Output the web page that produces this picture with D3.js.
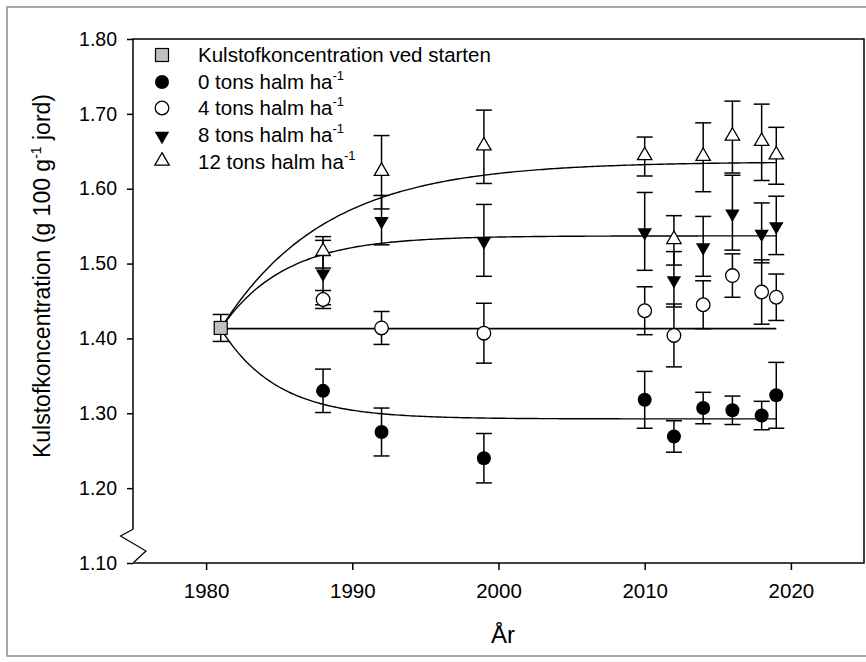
<!DOCTYPE html>
<html>
<head>
<meta charset="utf-8">
<script src="https://cdn.jsdelivr.net/npm/d3@7"></script>
<style>
  html, body { margin: 0; padding: 0; background: #fff; }
  svg { display: block; font-family: "Liberation Sans", Arial, sans-serif; }
</style>
</head>
<body>
<svg id="chart" width="866" height="662"></svg>
<script>
// ---------------- data ----------------
const years = [1988, 1992, 1999, 2010, 2012, 2014, 2016, 2018, 2019];

const startYear = 1981;
const startValue = 1.414;
const startErr = 0.018;

const tons0 = [1.330, 1.275, 1.240, 1.318, 1.269, 1.307, 1.304, 1.297, 1.324];
const tons0Err = [0.029, 0.032, 0.033, 0.038, 0.021, 0.021, 0.019, 0.019, 0.044];

const tons4 = [1.452, 1.414, 1.407, 1.437, 1.404, 1.445, 1.484, 1.462, 1.455];
const tons4Err = [0.012, 0.022, 0.040, 0.032, 0.042, 0.032, 0.029, 0.043, 0.031];

const tons8 = [1.488, 1.558, 1.531, 1.543, 1.479, 1.523, 1.568, 1.541, 1.551];
const tons8Err = [0.043, 0.033, 0.048, 0.052, 0.037, 0.040, 0.050, 0.040, 0.039];

const tons12 = [1.515, 1.622, 1.656, 1.643, 1.531, 1.642, 1.669, 1.662, 1.644];
const tons12Err = [0.021, 0.049, 0.049, 0.026, 0.033, 0.046, 0.048, 0.051, 0.038];

// fitted exponential curves: y = A + (y0 - A) * exp(-k (t - 1981))
const fitStart = 1.413;
const fitAsymptote = [1.2925, 1.413, 1.537, 1.636];
const fitRate = [0.26, 0, 0.23, 0.14];
const fitEndYear = 2019;

const xTicks = [1980, 1990, 2000, 2010, 2020];
const yTicks = [1.10, 1.20, 1.30, 1.40, 1.50, 1.60, 1.70, 1.80];

const legendLabels = ["Kulstofkoncentration ved starten", "0 tons halm ha", "4 tons halm ha", "8 tons halm ha", "12 tons halm ha"];

// ---------------- layout ----------------
const svg = d3.select("#chart");
const L = 133, R = 864, T = 39, B = 563;
const x = d3.scaleLinear().domain([1975, 2025]).range([L, R]);
const y = d3.scaleLinear().domain([1.10, 1.80]).range([B, T]);

// outer grey frame
svg.append("rect").attr("x", 7).attr("y", 7).attr("width", 880).attr("height", 649)
  .attr("fill", "none").attr("stroke", "#8a8a8a").attr("stroke-width", 1.5);

// axes
const yAxis = d3.axisLeft(y).tickValues(yTicks).tickFormat(d3.format(".2f")).tickSizeOuter(0).tickSize(6).tickPadding(10);
const xAxis = d3.axisBottom(x).tickValues(xTicks).tickFormat(d3.format("d")).tickSizeOuter(0).tickSize(7).tickPadding(13);

const gy = svg.append("g").attr("transform", `translate(${L},0)`).call(yAxis);
const gx = svg.append("g").attr("transform", `translate(0,${B})`).call(xAxis);
[gx, gy].forEach(g => {
  g.select(".domain").remove();
  g.selectAll("line").attr("stroke", "#000").attr("stroke-width", 1.5);
  g.selectAll("text").attr("fill", "#000");
});
gy.selectAll("text").style("font-size", "19.5px");
gx.selectAll("text").style("font-size", "20.5px");

// plot frame
svg.append("rect").attr("x", L).attr("y", T).attr("width", R - L).attr("height", B - T)
  .attr("fill", "none").attr("stroke", "#000").attr("stroke-width", 1.5);

// axis break on y axis
const bk = svg.append("g");
bk.append("rect").attr("x", L - 1.5).attr("y", y(1.145)).attr("width", 3).attr("height", y(1.10) - y(1.145)).attr("fill", "#fff");
bk.append("path")
  .attr("d", `M${L},${y(1.145)} L${L - 12.5},${y(1.136)} L${L + 13},${y(1.116)} L${L},${y(1.10)}`)
  .attr("fill", "none").attr("stroke", "#000").attr("stroke-width", 1.2);

// axis titles
svg.append("text").attr("x", 503).attr("y", 643).attr("text-anchor", "middle")
  .style("font-size", "24px").attr("fill", "#000").text("År");

const yt = svg.append("text").attr("transform", "translate(50,276) rotate(-90)")
  .attr("text-anchor", "middle").style("font-size", "23px").attr("fill", "#000");
yt.append("tspan").text("Kulstofkoncentration (g 100 g");
yt.append("tspan").attr("dy", -9).style("font-size", "14px").text("-1");
yt.append("tspan").attr("dy", 9).text(" jord)");

// fitted curves
const line = d3.line().x(d => x(d[0])).y(d => y(d[1])).curve(d3.curveLinear);
fitAsymptote.forEach((A, i) => {
  const k = fitRate[i];
  const pts = d3.range(startYear, fitEndYear + 0.001, 0.2).map(t => [t, A + (fitStart - A) * Math.exp(-k * (t - startYear))]);
  svg.append("path").datum(pts).attr("d", line)
    .attr("fill", "none").attr("stroke", "#000").attr("stroke-width", i === 1 ? 1.8 : 1.4);
});

// symbols
const triUp = d3.symbol().type(d3.symbolTriangle).size(90);
function drawMarker(g, kind, cx, cy) {
  if (kind === "fc") g.append("circle").attr("cx", cx).attr("cy", cy).attr("r", 7).attr("fill", "#000");
  else if (kind === "oc") g.append("circle").attr("cx", cx).attr("cy", cy).attr("r", 6.8).attr("fill", "#fff").attr("stroke", "#000").attr("stroke-width", 1.3);
  else if (kind === "dt") g.append("path").attr("d", triUp()).attr("transform", `translate(${cx},${cy + 1}) rotate(180)`).attr("fill", "#000");
  else if (kind === "ut") g.append("path").attr("d", triUp()).attr("transform", `translate(${cx},${cy - 1})`).attr("fill", "#fff").attr("stroke", "#000").attr("stroke-width", 1.3);
  else if (kind === "sq") g.append("rect").attr("x", cx - 6.5).attr("y", cy - 6.5).attr("width", 13).attr("height", 13).attr("fill", "#c0c0c0").attr("stroke", "#000").attr("stroke-width", 1.2);
}

const series = [
  { vals: tons0, errs: tons0Err, kind: "fc" },
  { vals: tons4, errs: tons4Err, kind: "oc" },
  { vals: tons8, errs: tons8Err, kind: "dt" },
  { vals: tons12, errs: tons12Err, kind: "ut" }
];

// error bars
const eb = svg.append("g").attr("stroke", "#000").attr("stroke-width", 1.5);
function errBar(t, v, e) {
  const cx = x(t);
  eb.append("line").attr("x1", cx).attr("x2", cx).attr("y1", y(v + e)).attr("y2", y(v - e));
  eb.append("line").attr("x1", cx - 8).attr("x2", cx + 8).attr("y1", y(v + e)).attr("y2", y(v + e));
  eb.append("line").attr("x1", cx - 8).attr("x2", cx + 8).attr("y1", y(v - e)).attr("y2", y(v - e));
}
errBar(startYear, startValue, startErr);
series.forEach(s => s.vals.forEach((v, i) => errBar(years[i], v, s.errs[i])));

// markers
const mk = svg.append("g");
drawMarker(mk, "sq", x(startYear), y(startValue));
series.forEach(s => s.vals.forEach((v, i) => drawMarker(mk, s.kind, x(years[i]), y(v))));

// legend
const lg = svg.append("g");
const legendKinds = ["sq", "fc", "oc", "dt", "ut"];
const legendY = [55, 82, 108, 135, 162];
legendKinds.forEach((k, i) => {
  drawMarker(lg, k, 162, legendY[i]);
  const t = lg.append("text").attr("x", 198).attr("y", legendY[i] + 7).style("font-size", "20.5px").attr("fill", "#000");
  t.append("tspan").text(legendLabels[i]);
  if (i > 0) t.append("tspan").attr("dy", -9).style("font-size", "13px").text("-1");
});
</script>
</body>
</html>
